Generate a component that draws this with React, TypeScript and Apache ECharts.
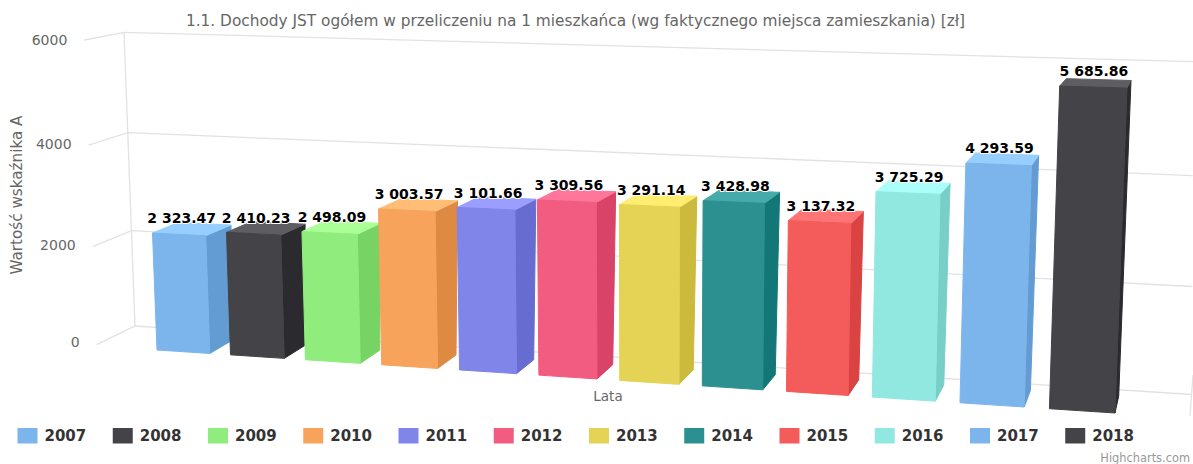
import React, { useEffect, useRef } from "react";
import * as echarts from "echarts";

const years = ["2007", "2008", "2009", "2010", "2011", "2012", "2013", "2014", "2015", "2016", "2017", "2018"];
const values = [2323.47, 2410.23, 2498.09, 3003.57, 3101.66, 3309.56, 3291.14, 3428.98, 3137.32, 3725.29, 4293.59, 5685.86];
const colors = ["#7cb5ec", "#434348", "#90ed7d", "#f7a35c", "#8085e9", "#f15c80", "#e4d354", "#2b908f", "#f45b5b", "#91e8e1", "#7cb5ec", "#434348"];
const yTicks = [0, 2000, 4000, 6000];

const FONT = '"DejaVu Sans", sans-serif';
const GRID = { left: 60, top: 40, width: 1096, height: 310, outerBoundsMode: "none" };
const YMAX = 6000;
const HALF = 0.36;

type P = [number, number];
type Ctrl = [number, number, number, number];

function solve(a: number[][], b: number[]): number[] {
  const n = b.length;
  const m = a.map((r, i) => [...r, b[i]]);
  for (let c = 0; c < n; c++) {
    let p = c;
    for (let r = c + 1; r < n; r++) if (Math.abs(m[r][c]) > Math.abs(m[p][c])) p = r;
    [m[c], m[p]] = [m[p], m[c]];
    for (let r = 0; r < n; r++) {
      if (r === c) continue;
      const f = m[r][c] / m[c][c];
      for (let k = c; k <= n; k++) m[r][k] -= f * m[c][k];
    }
  }
  return m.map((r, i) => r[n] / r[i]);
}

// [u, value, screenX, screenY] control points of a perspective plane
function homography(ctrl: Ctrl[]) {
  const A: number[][] = [];
  const B: number[] = [];
  ctrl.forEach(([u, val, X, Y]) => {
    const x = u / 12;
    const y = val / YMAX;
    A.push([x, y, 1, 0, 0, 0, -x * X, -y * X]);
    B.push(X);
    A.push([0, 0, 0, x, y, 1, -x * Y, -y * Y]);
    B.push(Y);
  });
  const h = solve(A, B);
  return (u: number, val: number): P => {
    const x = u / 12;
    const y = val / YMAX;
    const w = h[6] * x + h[7] * y + 1;
    return [(h[0] * x + h[1] * y + h[2]) / w, (h[3] * x + h[4] * y + h[5]) / w];
  };
}

const frontPlane = homography([
  [-HALF, 0, 157, 350],
  [11 + HALF, 0, 1115, 413],
  [-HALF, 2323.47, 152.5, 233],
  [11 + HALF, 5685.86, 1127, 88],
]);
const backPlane = homography([
  [HALF, 0, 231, 341],
  [11 + HALF, 0, 1118.7, 396],
  [HALF, 2323.47, 231, 225],
  [11 + HALF, 5685.86, 1131, 80.5],
]);
const wallPlane = homography([
  [0, 0, 135, 326],
  [0, 6000, 124, 32.3],
  [12, 0, 1192, 394.5],
  [12, 6000, 1193, 61.7],
]);
const sidePlane = homography([
  [-12, 0, 96.7, 344.7],
  [-12, 6000, 84.3, 40],
  [0, 0, 135, 326],
  [0, 6000, 124, 32.3],
]);

const toPlane = (p: number[]): P => [
  ((p[0] - GRID.left) / GRID.width) * 12 - 0.5,
  ((GRID.top + GRID.height - p[1]) / GRID.height) * YMAX,
];

// foreshortening of the value scale along the walls
const foreshorten = (v: number) => v - 4.5e-6 * v * (YMAX - v);

function shade(hex: string, d: number) {
  const n = parseInt(hex.slice(1), 16);
  const c = [(n >> 16) & 255, (n >> 8) & 255, n & 255].map((x) => Math.max(0, Math.min(255, Math.round(x + d))));
  return `rgb(${c[0]},${c[1]},${c[2]})`;
}

const fmt = (v: number) => {
  const [a, b] = v.toFixed(2).split(".");
  return `${a.replace(/\B(?=(\d{3})+$)/g, " ")}.${b}`;
};

function renderBar(_: any, api: any) {
  const i = api.value(0);
  const top = toPlane(api.coord([i, api.value(1)]));
  const base = toPlane(api.coord([i, 0]));
  const color = api.visual("color");
  const uL = base[0] - HALF;
  const uR = base[0] + HALF;
  const fBL = frontPlane(uL, base[1]);
  const fBR = frontPlane(uR, base[1]);
  const fTL = frontPlane(uL, top[1]);
  const fTR = frontPlane(uR, top[1]);
  const bBR = backPlane(uR, base[1]);
  const bTL = backPlane(uL, top[1]);
  const bTR = backPlane(uR, top[1]);
  const face = (points: P[], fill: string) => ({
    type: "polygon",
    shape: { points },
    style: { fill, stroke: fill, lineWidth: 1, lineJoin: "round" },
  });
  const frontX = (fTL[0] + fTR[0]) / 2;
  const backX = (bTL[0] + bTR[0]) / 2;
  return {
    type: "group",
    children: [
      face([fBR, fTR, bTR, bBR], shade(color, -25.5)),
      face([fTL, fTR, bTR, bTL], shade(color, 25.5)),
      face([fBL, fBR, fTR, fTL], color),
      {
        type: "text",
        z2: 100,
        style: {
          text: fmt(api.value(1)),
          x: frontX + (backX - frontX) * 0.1,
          y: (fTL[1] + fTR[1]) / 2 - 16,
          align: "center",
          verticalAlign: "middle",
          fill: "#000",
          stroke: "#fff",
          lineWidth: 2,
          font: `bold 14px ${FONT}`,
        },
      },
    ],
  };
}

function renderWall(params: any, api: any) {
  const raw = toPlane(api.coord([0, api.value(1)]))[1];
  const v = foreshorten(raw);
  const outer = sidePlane(-12, v);
  const children: any[] = [
    {
      type: "polyline",
      shape: { points: [outer, wallPlane(0, v), wallPlane(12, v)] },
      style: { fill: "none", stroke: "#e2e2e2", lineWidth: 1.3 },
    },
    {
      type: "text",
      style: {
        text: String(api.value(1)),
        x: outer[0] - 17,
        y: outer[1] - 2.4 + (raw / YMAX) * 2.4,
        align: "right",
        verticalAlign: "middle",
        fill: "#666666",
        font: `14px ${FONT}`,
      },
    },
  ];
  if (params.dataIndex === 0) {
    children.push({
      type: "line",
      shape: {
        x1: wallPlane(0, 0)[0],
        y1: wallPlane(0, 0)[1],
        x2: wallPlane(0, YMAX)[0],
        y2: wallPlane(0, YMAX)[1],
      },
      style: { stroke: "#e2e2e2", lineWidth: 1.3 },
    });
  }
  return { type: "group", children };
}

export default function App() {
  const ref = useRef<HTMLDivElement>(null);
  useEffect(() => {
    const chart = echarts.init(ref.current!, undefined, { renderer: "svg" });
    chart.setOption({
      animation: false,
      textStyle: { fontFamily: FONT },
      title: {
        text: "1.1. Dochody JST ogółem w przeliczeniu na 1 mieszkańca (wg faktycznego miejsca zamieszkania) [zł]",
        left: 575.5,
        top: 13,
        textAlign: "center",
        padding: 0,
        textStyle: { color: "#666666", fontSize: 15.35, fontWeight: "normal", fontFamily: FONT },
      },
      grid: GRID,
      xAxis: {
        type: "category",
        data: years,
        name: "Lata",
        nameLocation: "middle",
        nameGap: 39,
        nameTextStyle: { color: "#666666", fontSize: 13.5, fontFamily: FONT },
        axisLine: { show: false },
        axisTick: { show: false },
        axisLabel: { show: false },
      },
      yAxis: {
        type: "value",
        min: 0,
        max: YMAX,
        interval: 2000,
        name: "Wartość wskaźnika A",
        nameLocation: "middle",
        nameRotate: 90,
        nameGap: 36,
        nameTextStyle: { color: "#666666", fontSize: 15.2, fontFamily: FONT },
        axisLine: { show: false },
        axisTick: { show: false },
        axisLabel: { show: false },
        splitLine: { show: false },
      },
      legend: {
        left: 17.5,
        top: 428,
        padding: 0,
        itemWidth: 20,
        itemHeight: 15.5,
        itemGap: 26.5,
        icon: "rect",
        data: years,
        textStyle: { color: "#333333", fontSize: 15, fontWeight: "bold", fontFamily: FONT, padding: [0, 0, 0, 2] },
      },
      graphic: [
        {
          type: "text",
          right: 3,
          top: 452.5,
          style: { text: "Highcharts.com", fill: "#999999", font: `11.4px ${FONT}` },
        },
        {
          type: "line",
          shape: { x1: 1193, y1: 375, x2: 1190, y2: 416 },
          style: { stroke: "#e2e2e2", lineWidth: 1.3 },
        },
      ],
      series: [
        {
          type: "custom",
          name: "wall",
          silent: true,
          renderItem: renderWall,
          data: yTicks.map((t) => [0, t]),
          z: 1,
        },
        ...years.map((y, i) => ({
          type: "custom",
          name: y,
          renderItem: renderBar,
          itemStyle: { color: colors[i] },
          data: [[i, values[i]]],
          z: 2,
        })),
      ],
    });
    return () => chart.dispose();
  }, []);
  return (
    <div
      ref={ref}
      style={{ position: "fixed", left: 0, top: 0, width: 1193, height: 464, overflow: "hidden", background: "#fff" }}
    />
  );
}
